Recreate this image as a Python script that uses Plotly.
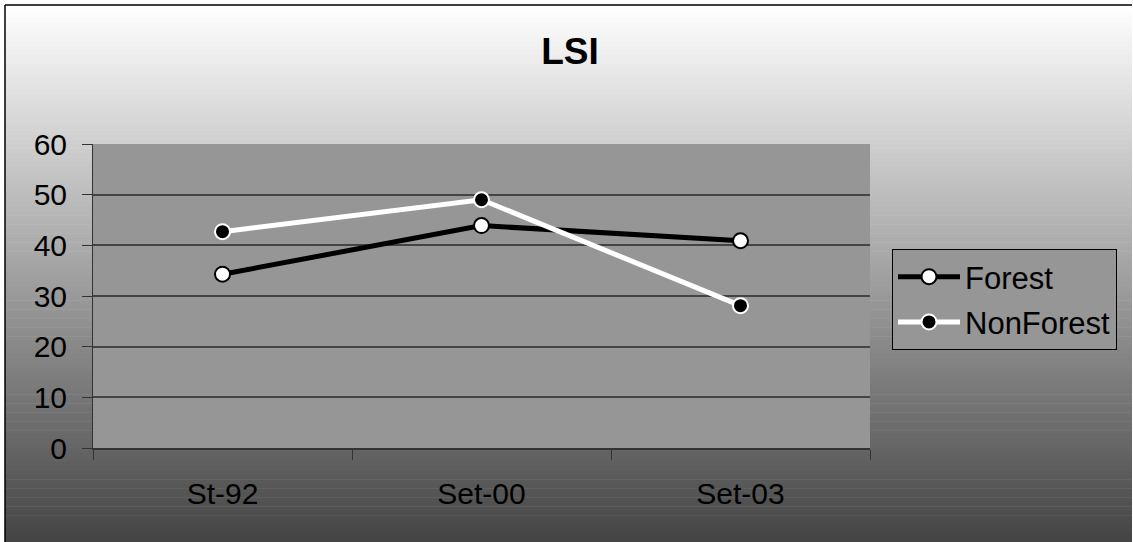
import plotly.graph_objects as go

categories = ["St-92", "Set-00", "Set-03"]
forest = [34.3, 43.9, 40.9]
nonforest = [42.7, 49.0, 28.1]
y_ticks = [0, 10, 20, 30, 40, 50, 60]

W, H = 1133, 542
L, R, T, B = 93, 263, 144, 94
pw, ph = W - L - R, H - T - B

def px_x(p):
    return (p - L) / pw

def px_y(p):
    return (H - B - p) / ph

FONT = "Arial, Liberation Sans, sans-serif"

fig = go.Figure()
fig.add_trace(go.Scatter(
    x=categories, y=forest, name="Forest", mode="lines+markers", legendgroup="f",
    line=dict(color="black", width=5),
    marker=dict(size=15, color="white", line=dict(color="black", width=2)),
))
fig.add_trace(go.Scatter(
    x=categories, y=nonforest, name="NonForest", mode="lines+markers", legendgroup="n",
    line=dict(color="white", width=5),
    marker=dict(size=15, color="black", line=dict(color="white", width=2)),
))

shapes = []
# gradient background of the chart box
top, bot, left, right = 5, 542, 5, 1132
n = 120
for i in range(n):
    y0 = top + (bot - top) * i / n
    y1 = top + (bot - top) * (i + 1) / n
    t = (i + 0.5) / n
    v = int(round(255 - (255 - 68) * t))
    shapes.append(dict(type="rect", xref="paper", yref="paper",
                       x0=px_x(left), x1=px_x(right), y0=px_y(y1 + 0.5), y1=px_y(y0),
                       fillcolor=f"rgb({v},{v},{v})", line=dict(width=0), layer="below"))
# frame border (left and top)
shapes.append(dict(type="line", xref="paper", yref="paper",
                   x0=px_x(left), x1=px_x(left), y0=px_y(bot), y1=px_y(top),
                   line=dict(color="black", width=1.5), layer="below"))
shapes.append(dict(type="line", xref="paper", yref="paper",
                   x0=px_x(left), x1=px_x(right), y0=px_y(top), y1=px_y(top),
                   line=dict(color="black", width=1.5), layer="below"))
# plot area
shapes.append(dict(type="rect", xref="x domain", yref="y domain", x0=0, x1=1, y0=0, y1=1,
                   fillcolor="#969696", line=dict(width=0), layer="below"))

fig.update_layout(
    width=W, height=H,
    margin=dict(l=L, r=R, t=T, b=B, pad=0),
    paper_bgcolor="white",
    plot_bgcolor="#969696",
    shapes=shapes,
    title=dict(text="<b>LSI</b>", x=570 / W, xref="container", xanchor="center",
               y=1 - 51 / H, yref="container", yanchor="middle",
               font=dict(family=FONT, size=37, color="black")),
    font=dict(family=FONT, size=29, color="black"),
    showlegend=True,
    legend=dict(x=px_x(892), y=px_y(249), xanchor="left", yanchor="top",
                bgcolor="#969696", bordercolor="black", borderwidth=1,
                font=dict(family=FONT, size=31, color="black"),
                itemwidth=62, tracegroupgap=2, traceorder="grouped"),
    xaxis=dict(type="category", range=[-0.5, 2.5], tickson="boundaries",
               ticks="outside", ticklen=10, tickcolor="#333333", tickwidth=1,
               showline=True, linecolor="#333333", linewidth=2,
               showgrid=False, zeroline=False, ticklabelstandoff=18,
               tickfont=dict(family=FONT, size=30, color="black")),
    yaxis=dict(range=[0, 60], tickvals=y_ticks, ticks="outside", ticklen=10,
               tickcolor="#333333", tickwidth=1,
               showline=True, linecolor="#333333", linewidth=1,
               showgrid=True, gridcolor="#444444", gridwidth=1.5, zeroline=False,
               ticklabelstandoff=9,
               tickfont=dict(family=FONT, size=30, color="black")),
)

fig.write_html("out.html")
